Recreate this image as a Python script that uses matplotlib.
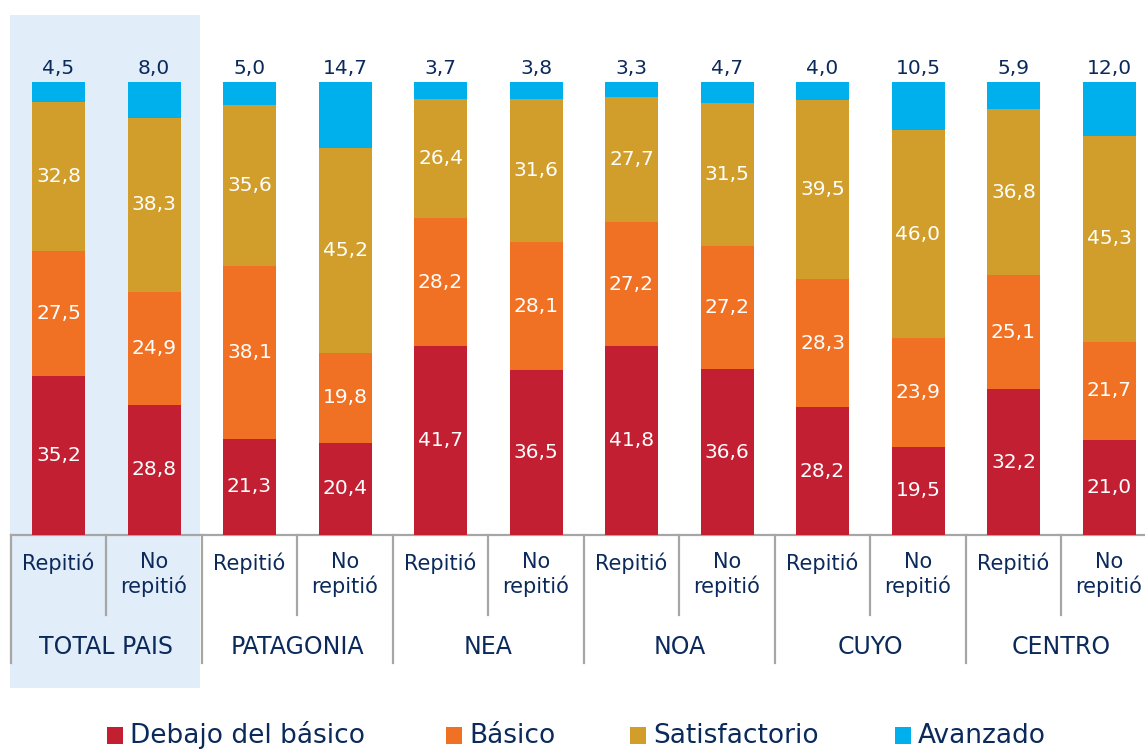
import matplotlib
matplotlib.use("Agg")
import matplotlib.pyplot as plt
from matplotlib.patches import Rectangle
import numpy as np

regions = ["TOTAL PAIS", "PATAGONIA", "NEA", "NOA", "CUYO", "CENTRO"]
subcats = ["Repitió", "No\nrepitió"]
series_names = ["Debajo del básico", "Básico", "Satisfactorio", "Avanzado"]
debajo = [35.2, 28.8, 21.3, 20.4, 41.7, 36.5, 41.8, 36.6, 28.2, 19.5, 32.2, 21.0]
basico = [27.5, 24.9, 38.1, 19.8, 28.2, 28.1, 27.2, 27.2, 28.3, 23.9, 25.1, 21.7]
satisf = [32.8, 38.3, 35.6, 45.2, 26.4, 31.6, 27.7, 31.5, 39.5, 46.0, 36.8, 45.3]
avanz = [4.5, 8.0, 5.0, 14.7, 3.7, 3.8, 3.3, 4.7, 4.0, 10.5, 5.9, 12.0]

colors = ["#C22032", "#F07123", "#D19E2B", "#00B0EC"]
navy = "#0B2A5B"
grey = "#A6A6A6"
FONT = "DejaVu Sans"

W, H = 1145, 749
fig = plt.figure(figsize=(W / 100, H / 100), dpi=100)

# highlight background for TOTAL PAIS
fig.patches.append(Rectangle((10 / W, (H - 688) / H), 190 / W, 673 / H,
                             transform=fig.transFigure, facecolor="#E1EDF9",
                             edgecolor="none", zorder=-5))

ax_left = 10.75 / W
ax = fig.add_axes([ax_left, (H - 535) / H, 1 - ax_left, (535 - 82) / H])
ax.set_facecolor("none")
step = 95.5
ax.set_xlim(-0.5, (W - 58.5) / step)
ax.set_ylim(0, 100)
for s in ax.spines.values():
    s.set_visible(False)
ax.set_xticks([])
ax.set_yticks([])

x = np.arange(len(debajo))
width = 53 / step
data = [debajo, basico, satisf, avanz]
bottom = np.zeros(len(x))
for i, (vals, c, name) in enumerate(zip(data, colors, series_names)):
    vals = np.array(vals)
    ax.bar(x, vals, width, bottom=bottom, color=c, label=name, zorder=2)
    for xi, v, b in zip(x, vals, bottom):
        lbl = f"{v:.1f}".replace(".", ",")
        if i < 3:
            ax.text(xi, b + v / 2, lbl, ha="center", va="center", color="white",
                    fontsize=14.5, family=FONT, zorder=3)
        else:
            ax.text(xi, 100 + 3.0, lbl, ha="center", va="center", color=navy,
                    fontsize=14.5, family=FONT, zorder=3)
    bottom += vals

px = 100 / (535 - 82)  # data units per pixel (y)
ax.plot([-0.5, 12], [0, 0], color=grey, lw=1.6, clip_on=False, zorder=1)
for k in range(13):
    xb = -0.5 + k
    ylo = -128 * px if k % 2 == 0 else -80 * px
    ax.plot([xb, xb], [0, ylo], color=grey, lw=1.6, clip_on=False, zorder=1)

for xi in x:
    lbl = subcats[xi % 2]
    ax.text(xi, -17 * px, lbl, ha="center", va="top", color=navy, fontsize=15,
            family=FONT, linespacing=1.2)
for r, name in enumerate(regions):
    ax.text(2 * r + 0.5, -112.5 * px, name, ha="center", va="center", color=navy,
            fontsize=17, family=FONT)

leg_x = [107, 446, 630, 895]
for lx, c, name in zip(leg_x, colors, series_names):
    fig.patches.append(Rectangle((lx / W, (H - 744) / H), 16 / W, 17 / H,
                                 transform=fig.transFigure, facecolor=c,
                                 edgecolor="none"))
    fig.text((lx + 23) / W, (H - 743) / H, name, ha="left", va="baseline",
             color=navy, fontsize=19, family=FONT)

fig.savefig("out.png", dpi=100)
